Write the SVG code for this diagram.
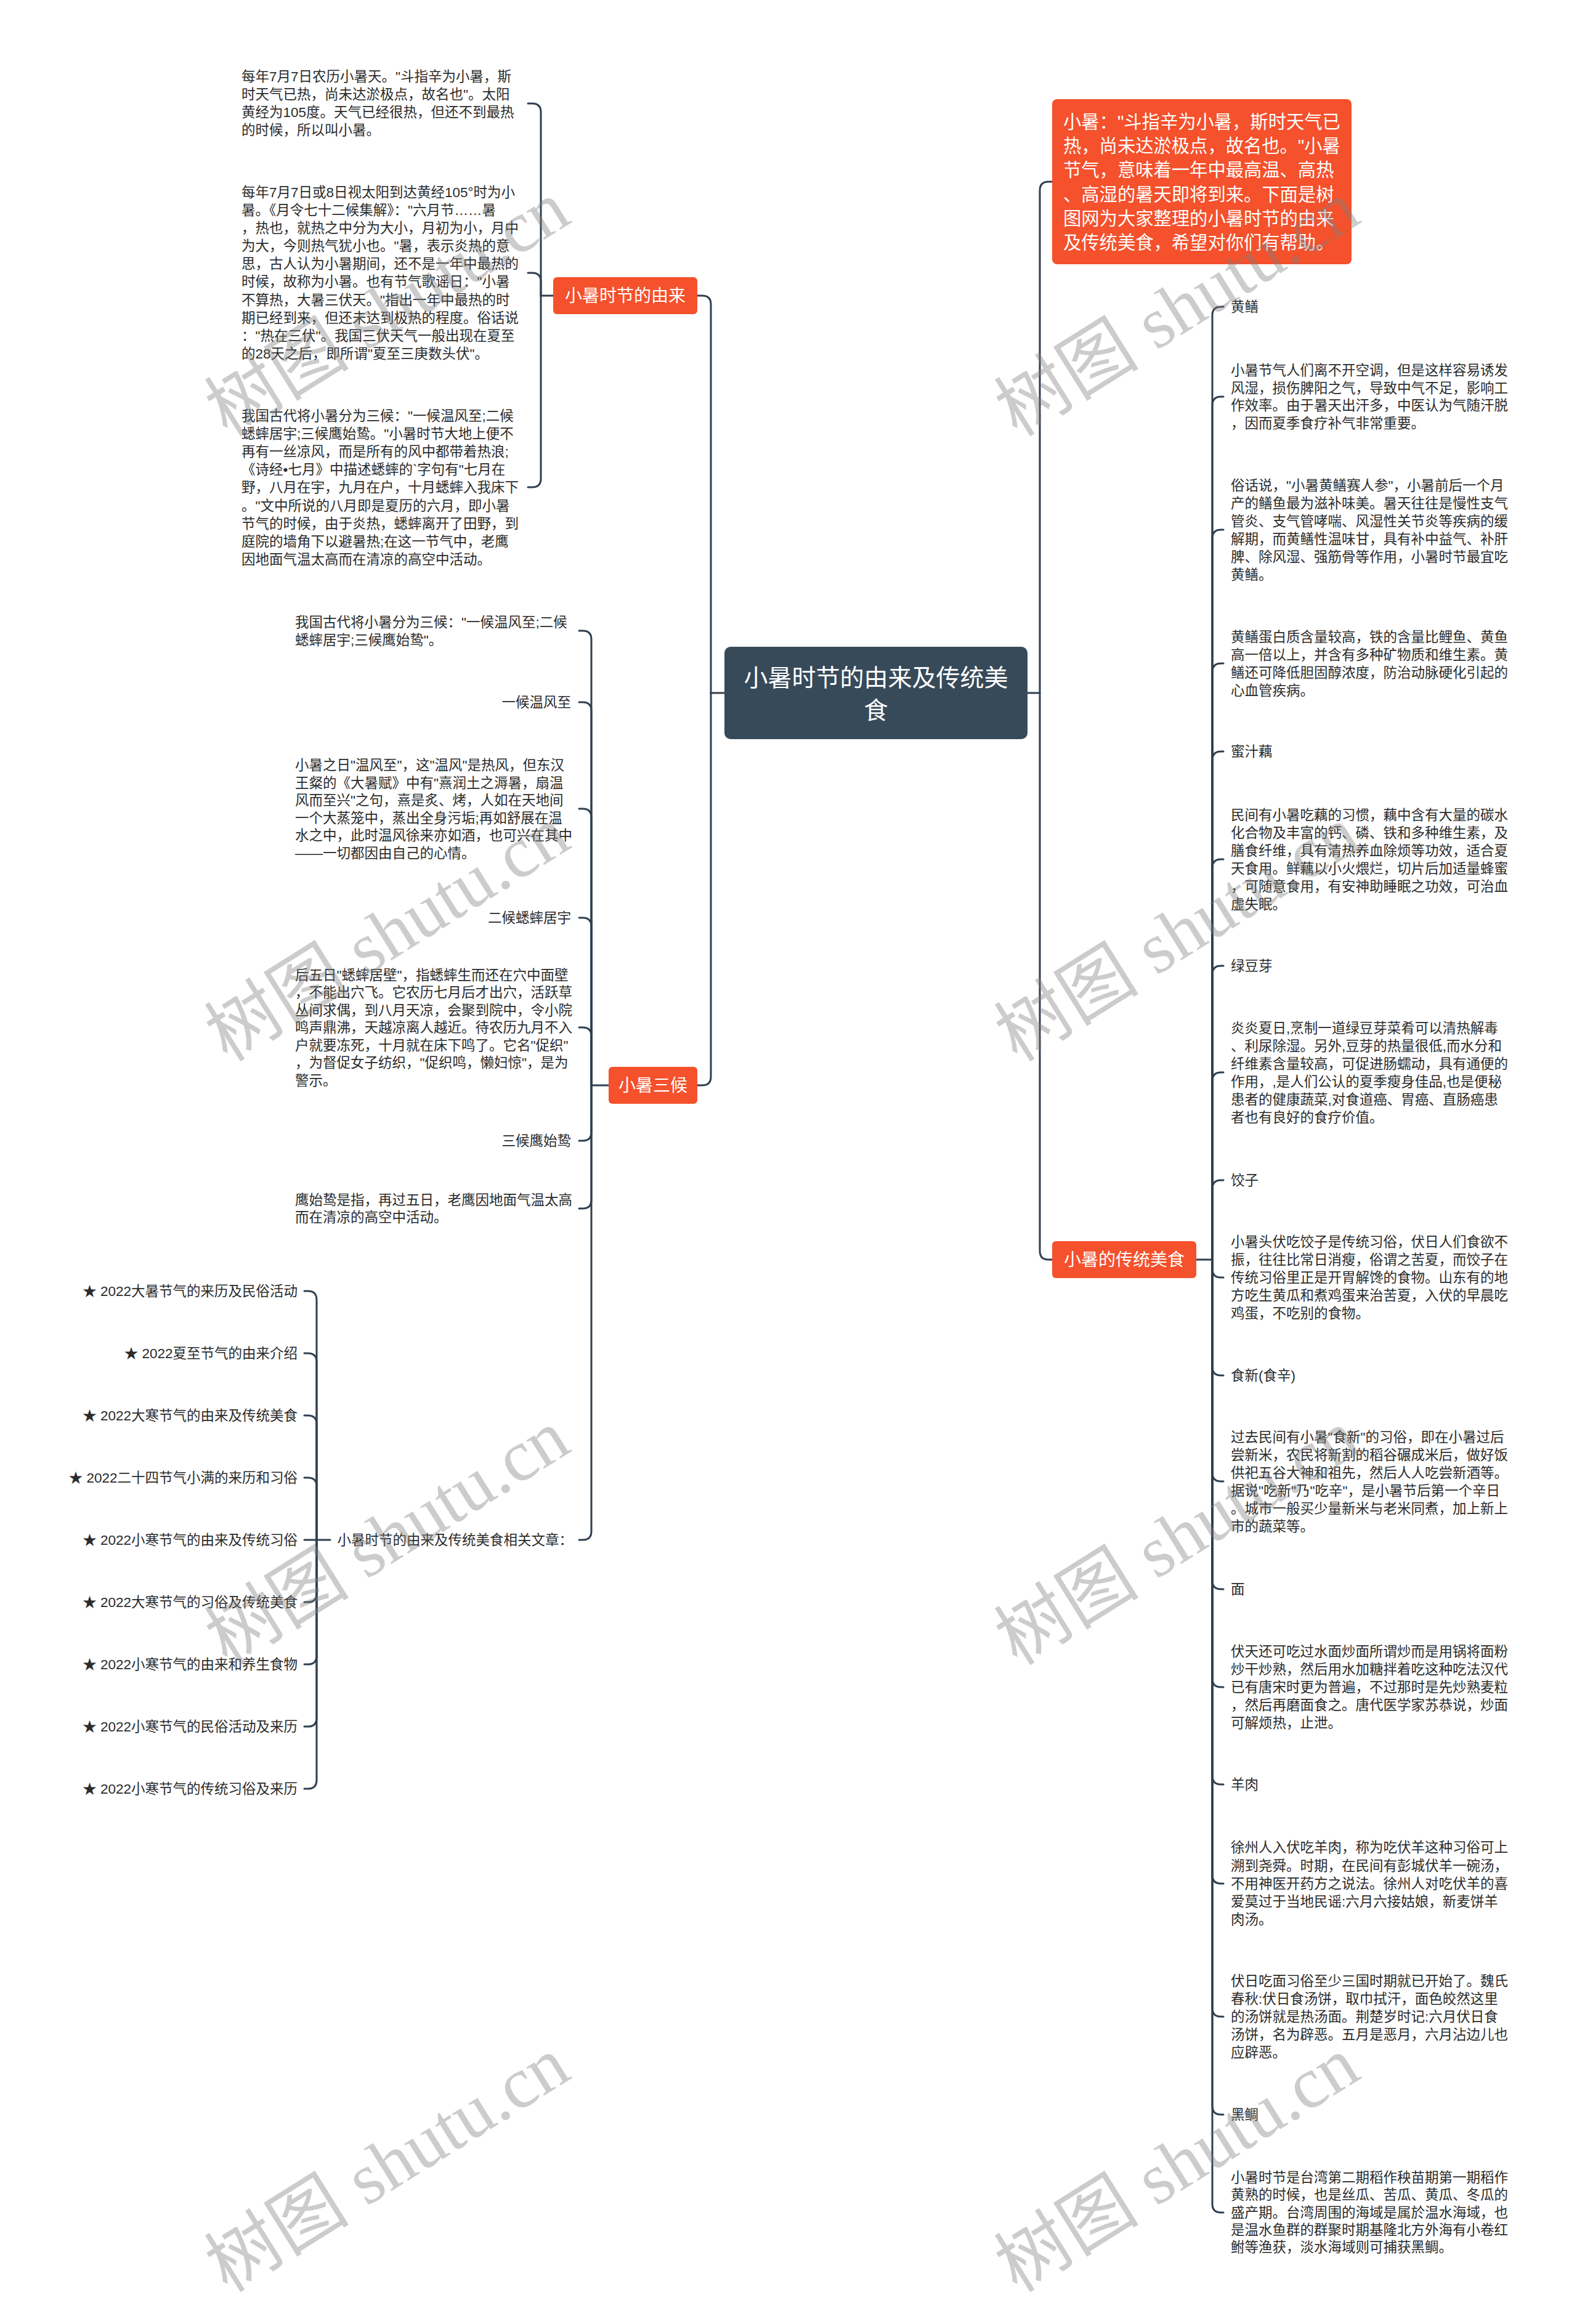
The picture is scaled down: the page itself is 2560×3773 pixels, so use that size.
<svg xmlns="http://www.w3.org/2000/svg" width="2560" height="3773" viewBox="0 0 2560 3773">
<style>
.t{font-family:"Liberation Sans","Noto Sans CJK SC",sans-serif;font-size:22.5px;fill:#2b2b2b;dominant-baseline:central}
.e{text-anchor:end}
.n{font-family:"Liberation Sans","Noto Sans CJK SC",sans-serif;font-size:28px;fill:#ffffff;dominant-baseline:central;text-anchor:middle}
.rt{font-family:"Liberation Sans","Noto Sans CJK SC",sans-serif;font-size:39px;fill:#ffffff;dominant-baseline:central;text-anchor:middle}
.ib{font-family:"Liberation Sans","Noto Sans CJK SC",sans-serif;font-size:29.3px;fill:#ffffff;dominant-baseline:central}
.or{fill:#f4512c}
.c path{fill:none;stroke:#2f3f4f;stroke-width:3;stroke-linecap:round}
.wm{font-family:"Liberation Serif","Noto Sans CJK SC",serif;font-size:118px;fill:#7f7f7f;fill-opacity:0.4}
</style>
<rect width="2560" height="3773" fill="#ffffff"/>
<g class="c" id="connectors">
<path d="M1176 1125 H1154"/>
<path d="M1154 1125 V494 Q1154 480 1140 480 H1132"/>
<path d="M1154 1125 V1748 Q1154 1762 1140 1762 H1132"/>
<path d="M1668 1125 H1688"/>
<path d="M1688 1125 V309 Q1688 295 1702 295 H1708"/>
<path d="M1688 1125 V2031 Q1688 2045 1702 2045 H1708"/>
<path d="M898 480 H878"/>
<path d="M878 480 V182 Q878 168 864 168 H857"/>
<path d="M878 480 V457 Q878 443 864 443 H857"/>
<path d="M878 480 V777 Q878 791 864 791 H857"/>
<path d="M988 1762 H960"/>
<path d="M960 1762 V1038 Q960 1024 946 1024 H940"/>
<path d="M960 1762 V1154 Q960 1140 946 1140 H940"/>
<path d="M960 1762 V1327 Q960 1313 946 1313 H940"/>
<path d="M960 1762 V1504 Q960 1490 946 1490 H940"/>
<path d="M960 1762 V1682 Q960 1668 946 1668 H940"/>
<path d="M960 1762 V1838 Q960 1852 946 1852 H940"/>
<path d="M960 1762 V1948 Q960 1962 946 1962 H940"/>
<path d="M960 1762 V2486 Q960 2500 946 2500 H940"/>
<path d="M536 2500 H494"/>
<path d="M514 2500 V2110 Q514 2096 500 2096 H494"/>
<path d="M514 2500 V2211 Q514 2197 500 2197 H494"/>
<path d="M514 2500 V2312 Q514 2298 500 2298 H494"/>
<path d="M514 2500 V2413 Q514 2399 500 2399 H494"/>
<path d="M514 2500 V2587 Q514 2601 500 2601 H494"/>
<path d="M514 2500 V2688 Q514 2702 500 2702 H494"/>
<path d="M514 2500 V2789 Q514 2803 500 2803 H494"/>
<path d="M514 2500 V2890 Q514 2904 500 2904 H494"/>
<path d="M1942 2045 H1968"/>
<path d="M1968 2045 V512 Q1968 498 1982 498 H1986"/>
<path d="M1968 2045 V658 Q1968 644 1982 644 H1986"/>
<path d="M1968 2045 V874 Q1968 860 1982 860 H1986"/>
<path d="M1968 2045 V1091 Q1968 1077 1982 1077 H1986"/>
<path d="M1968 2045 V1234 Q1968 1220 1982 1220 H1986"/>
<path d="M1968 2045 V1409 Q1968 1395 1982 1395 H1986"/>
<path d="M1968 2045 V1582 Q1968 1568 1982 1568 H1986"/>
<path d="M1968 2045 V1755 Q1968 1741 1982 1741 H1986"/>
<path d="M1968 2045 V1930 Q1968 1916 1982 1916 H1986"/>
<path d="M1968 2045 V2060 Q1968 2074 1982 2074 H1986"/>
<path d="M1968 2045 V2219 Q1968 2233 1982 2233 H1986"/>
<path d="M1968 2045 V2391 Q1968 2405 1982 2405 H1986"/>
<path d="M1968 2045 V2566 Q1968 2580 1982 2580 H1986"/>
<path d="M1968 2045 V2725 Q1968 2739 1982 2739 H1986"/>
<path d="M1968 2045 V2883 Q1968 2897 1982 2897 H1986"/>
<path d="M1968 2045 V3044 Q1968 3058 1982 3058 H1986"/>
<path d="M1968 2045 V3260 Q1968 3274 1982 3274 H1986"/>
<path d="M1968 2045 V3419 Q1968 3433 1982 3433 H1986"/>
<path d="M1968 2045 V3578 Q1968 3592 1982 3592 H1986"/>
</g>
<g id="root">
<rect x="1176" y="1050" width="492" height="150" rx="10" fill="#374a5a"/>
<text class="rt"><tspan x="1422" y="1100">小暑时节的由来及传统美</tspan><tspan x="1422" y="1153">食</tspan></text>
</g>
<g id="n-intro">
<rect class="or" x="1708" y="161" width="486" height="268" rx="8"/>
<text class="ib"><tspan x="1726" y="197">小暑："斗指辛为小暑，斯时天气已</tspan><tspan x="1726" y="236">热，尚未达淤极点，故名也。"小暑</tspan><tspan x="1726" y="275">节气，意味着一年中最高温、高热</tspan><tspan x="1726" y="315">、高湿的暑天即将到来。下面是树</tspan><tspan x="1726" y="354">图网为大家整理的小暑时节的由来</tspan><tspan x="1726" y="393">及传统美食，希望对你们有帮助。</tspan></text>
</g>
<g id="n-origin">
<rect class="or" x="898" y="450" width="234" height="60" rx="6"/>
<text class="n" x="1015" y="480">小暑时节的由来</text>
</g>
<g id="n-origin-1">
<text class="t"><tspan x="392" y="124">每年7月7日农历小暑天。"斗指辛为小暑，斯</tspan><tspan x="392" y="153">时天气已热，尚未达淤极点，故名也"。太阳</tspan><tspan x="392" y="182">黄经为105度。天气已经很热，但还不到最热</tspan><tspan x="392" y="211">的时候，所以叫小暑。</tspan></text>
</g>
<g id="n-origin-2">
<text class="t"><tspan x="392" y="312">每年7月7日或8日视太阳到达黄经105°时为小</tspan><tspan x="392" y="341">暑。《月令七十二候集解》："六月节……暑</tspan><tspan x="392" y="370">，热也，就热之中分为大小，月初为小，月中</tspan><tspan x="392" y="399">为大，今则热气犹小也。"暑，表示炎热的意</tspan><tspan x="392" y="428">思，古人认为小暑期间，还不是一年中最热的</tspan><tspan x="392" y="457">时候，故称为小暑。也有节气歌谣日："小暑</tspan><tspan x="392" y="487">不算热，大暑三伏天。"指出一年中最热的时</tspan><tspan x="392" y="516">期已经到来，但还未达到极热的程度。俗话说</tspan><tspan x="392" y="545">："热在三伏"。我国三伏天气一般出现在夏至</tspan><tspan x="392" y="574">的28天之后，即所谓"夏至三庚数头伏"。</tspan></text>
</g>
<g id="n-origin-3">
<text class="t"><tspan x="392" y="675">我国古代将小暑分为三候："一候温风至;二候</tspan><tspan x="392" y="704">蟋蟀居宇;三候鹰始鸷。"小暑时节大地上便不</tspan><tspan x="392" y="733">再有一丝凉风，而是所有的风中都带着热浪;</tspan><tspan x="392" y="762">《诗经•七月》中描述蟋蟀的`字句有"七月在</tspan><tspan x="392" y="791">野，八月在宇，九月在户，十月蟋蟀入我床下</tspan><tspan x="392" y="821">。"文中所说的八月即是夏历的六月，即小暑</tspan><tspan x="392" y="850">节气的时候，由于炎热，蟋蟀离开了田野，到</tspan><tspan x="392" y="879">庭院的墙角下以避暑热;在这一节气中，老鹰</tspan><tspan x="392" y="908">因地面气温太高而在清凉的高空中活动。</tspan></text>
</g>
<g id="n-hou">
<rect class="or" x="988" y="1732" width="144" height="60" rx="6"/>
<text class="n" x="1060" y="1762">小暑三候</text>
</g>
<g id="n-hou-1">
<text class="t"><tspan x="479" y="1010">我国古代将小暑分为三候："一候温风至;二候</tspan><tspan x="479" y="1039">蟋蟀居宇;三候鹰始鸷"。</tspan></text>
</g>
<g id="n-hou-2"><text class="t e" x="927" y="1140">一候温风至</text></g>
<g id="n-hou-3">
<text class="t"><tspan x="479" y="1242">小暑之日"温风至"，这"温风"是热风，但东汉</tspan><tspan x="479" y="1271">王粲的《大暑赋》中有"熹润土之溽暑，扇温</tspan><tspan x="479" y="1299">风而至兴"之句，熹是炙、烤，人如在天地间</tspan><tspan x="479" y="1328">一个大蒸笼中，蒸出全身污垢;再如舒展在温</tspan><tspan x="479" y="1356">水之中，此时温风徐来亦如酒，也可兴在其中</tspan><tspan x="479" y="1385">——一切都因由自己的心情。</tspan></text>
</g>
<g id="n-hou-4"><text class="t e" x="927" y="1490">二候蟋蟀居宇</text></g>
<g id="n-hou-5">
<text class="t"><tspan x="479" y="1583">后五日"蟋蟀居壁"，指蟋蟀生而还在穴中面壁</tspan><tspan x="479" y="1611">，不能出穴飞。它农历七月后才出穴，活跃草</tspan><tspan x="479" y="1640">丛间求偶，到八月天凉，会聚到院中，令小院</tspan><tspan x="479" y="1668">鸣声鼎沸，天越凉离人越近。待农历九月不入</tspan><tspan x="479" y="1697">户就要冻死，十月就在床下鸣了。它名"促织"</tspan><tspan x="479" y="1725">，为督促女子纺织，"促织鸣，懒妇惊"，是为</tspan><tspan x="479" y="1754">警示。</tspan></text>
</g>
<g id="n-hou-6"><text class="t e" x="927" y="1852">三候鹰始鸷</text></g>
<g id="n-hou-7">
<text class="t"><tspan x="479" y="1948">鹰始鸷是指，再过五日，老鹰因地面气温太高</tspan><tspan x="479" y="1976">而在清凉的高空中活动。</tspan></text>
</g>
<g id="n-related"><text class="t e" x="930" y="2500">小暑时节的由来及传统美食相关文章：</text></g>
<g id="n-related-items">
<text class="t e" x="483" y="2096">★ 2022大暑节气的来历及民俗活动</text>
<text class="t e" x="483" y="2197">★ 2022夏至节气的由来介绍</text>
<text class="t e" x="483" y="2298">★ 2022大寒节气的由来及传统美食</text>
<text class="t e" x="483" y="2399">★ 2022二十四节气小满的来历和习俗</text>
<text class="t e" x="483" y="2500">★ 2022小寒节气的由来及传统习俗</text>
<text class="t e" x="483" y="2601">★ 2022大寒节气的习俗及传统美食</text>
<text class="t e" x="483" y="2702">★ 2022小寒节气的由来和养生食物</text>
<text class="t e" x="483" y="2803">★ 2022小寒节气的民俗活动及来历</text>
<text class="t e" x="483" y="2904">★ 2022小寒节气的传统习俗及来历</text>
</g>
<g id="n-food">
<rect class="or" x="1708" y="2015" width="234" height="60" rx="6"/>
<text class="n" x="1825" y="2045">小暑的传统美食</text>
</g>
<g id="n-food-items">
<text class="t" x="1998" y="498">黄鳝</text>
<text class="t"><tspan x="1998" y="601">小暑节气人们离不开空调，但是这样容易诱发</tspan><tspan x="1998" y="630">风湿，损伤脾阳之气，导致中气不足，影响工</tspan><tspan x="1998" y="658">作效率。由于暑天出汗多，中医认为气随汗脱</tspan><tspan x="1998" y="687">，因而夏季食疗补气非常重要。</tspan></text>
<text class="t"><tspan x="1998" y="788">俗话说，"小暑黄鳝赛人参"，小暑前后一个月</tspan><tspan x="1998" y="817">产的鳝鱼最为滋补味美。暑天往往是慢性支气</tspan><tspan x="1998" y="846">管炎、支气管哮喘、风湿性关节炎等疾病的缓</tspan><tspan x="1998" y="875">解期，而黄鳝性温味甘，具有补中益气、补肝</tspan><tspan x="1998" y="904">脾、除风湿、强筋骨等作用，小暑时节最宜吃</tspan><tspan x="1998" y="933">黄鳝。</tspan></text>
<text class="t"><tspan x="1998" y="1034">黄鳝蛋白质含量较高，铁的含量比鲤鱼、黄鱼</tspan><tspan x="1998" y="1063">高一倍以上，并含有多种矿物质和维生素。黄</tspan><tspan x="1998" y="1092">鳝还可降低胆固醇浓度，防治动脉硬化引起的</tspan><tspan x="1998" y="1121">心血管疾病。</tspan></text>
<text class="t" x="1998" y="1220">蜜汁藕</text>
<text class="t"><tspan x="1998" y="1323">民间有小暑吃藕的习惯，藕中含有大量的碳水</tspan><tspan x="1998" y="1352">化合物及丰富的钙、磷、铁和多种维生素，及</tspan><tspan x="1998" y="1381">膳食纤维，具有清热养血除烦等功效，适合夏</tspan><tspan x="1998" y="1410">天食用。鲜藕以小火煨烂，切片后加适量蜂蜜</tspan><tspan x="1998" y="1439">，可随意食用，有安神助睡眠之功效，可治血</tspan><tspan x="1998" y="1468">虚失眠。</tspan></text>
<text class="t" x="1998" y="1568">绿豆芽</text>
<text class="t"><tspan x="1998" y="1669">炎炎夏日,烹制一道绿豆芽菜肴可以清热解毒</tspan><tspan x="1998" y="1698">、利尿除湿。另外,豆芽的热量很低,而水分和</tspan><tspan x="1998" y="1727">纤维素含量较高，可促进肠蠕动，具有通便的</tspan><tspan x="1998" y="1756">作用，,是人们公认的夏季瘦身佳品,也是便秘</tspan><tspan x="1998" y="1785">患者的健康蔬菜,对食道癌、胃癌、直肠癌患</tspan><tspan x="1998" y="1814">者也有良好的食疗价值。</tspan></text>
<text class="t" x="1998" y="1916">饺子</text>
<text class="t"><tspan x="1998" y="2016">小暑头伏吃饺子是传统习俗，伏日人们食欲不</tspan><tspan x="1998" y="2045">振，往往比常日消瘦，俗谓之苦夏，而饺子在</tspan><tspan x="1998" y="2074">传统习俗里正是开胃解馋的食物。山东有的地</tspan><tspan x="1998" y="2103">方吃生黄瓜和煮鸡蛋来治苦夏，入伏的早晨吃</tspan><tspan x="1998" y="2132">鸡蛋，不吃别的食物。</tspan></text>
<text class="t" x="1998" y="2233">食新(食辛)</text>
<text class="t"><tspan x="1998" y="2333">过去民间有小暑"食新"的习俗，即在小暑过后</tspan><tspan x="1998" y="2362">尝新米，农民将新割的稻谷碾成米后，做好饭</tspan><tspan x="1998" y="2391">供祀五谷大神和祖先，然后人人吃尝新酒等。</tspan><tspan x="1998" y="2420">据说"吃新"乃"吃辛"，是小暑节后第一个辛日</tspan><tspan x="1998" y="2449">。城市一般买少量新米与老米同煮，加上新上</tspan><tspan x="1998" y="2478">市的蔬菜等。</tspan></text>
<text class="t" x="1998" y="2580">面</text>
<text class="t"><tspan x="1998" y="2681">伏天还可吃过水面炒面所谓炒而是用锅将面粉</tspan><tspan x="1998" y="2710">炒干炒熟，然后用水加糖拌着吃这种吃法汉代</tspan><tspan x="1998" y="2739">已有唐宋时更为普遍，不过那时是先炒熟麦粒</tspan><tspan x="1998" y="2768">，然后再磨面食之。唐代医学家苏恭说，炒面</tspan><tspan x="1998" y="2797">可解烦热，止泄。</tspan></text>
<text class="t" x="1998" y="2897">羊肉</text>
<text class="t"><tspan x="1998" y="2999">徐州人入伏吃羊肉，称为吃伏羊这种习俗可上</tspan><tspan x="1998" y="3029">溯到尧舜。时期，在民间有彭城伏羊一碗汤，</tspan><tspan x="1998" y="3058">不用神医开药方之说法。徐州人对吃伏羊的喜</tspan><tspan x="1998" y="3087">爱莫过于当地民谣:六月六接姑娘，新麦饼羊</tspan><tspan x="1998" y="3116">肉汤。</tspan></text>
<text class="t"><tspan x="1998" y="3216">伏日吃面习俗至少三国时期就已开始了。魏氏</tspan><tspan x="1998" y="3245">春秋:伏日食汤饼，取巾拭汗，面色皎然这里</tspan><tspan x="1998" y="3274">的汤饼就是热汤面。荆楚岁时记:六月伏日食</tspan><tspan x="1998" y="3303">汤饼，名为辟恶。五月是恶月，六月沾边儿也</tspan><tspan x="1998" y="3332">应辟恶。</tspan></text>
<text class="t" x="1998" y="3433">黑鲷</text>
<text class="t"><tspan x="1998" y="3535">小暑时节是台湾第二期稻作秧苗期第一期稻作</tspan><tspan x="1998" y="3563">黄熟的时候，也是丝瓜、苦瓜、黄瓜、冬瓜的</tspan><tspan x="1998" y="3592">盛产期。台湾周围的海域是属於温水海域，也</tspan><tspan x="1998" y="3620">是温水鱼群的群聚时期基隆北方外海有小卷红</tspan><tspan x="1998" y="3648">鲋等渔获，淡水海域则可捕获黑鲷。</tspan></text>
</g>
<g id="watermark">
<text class="wm" text-anchor="middle" transform="translate(650 535) rotate(-32)">树图 shutu.cn</text>
<text class="wm" text-anchor="middle" transform="translate(1932 535) rotate(-32)">树图 shutu.cn</text>
<text class="wm" text-anchor="middle" transform="translate(650 1550) rotate(-32)">树图 shutu.cn</text>
<text class="wm" text-anchor="middle" transform="translate(1932 1550) rotate(-32)">树图 shutu.cn</text>
<text class="wm" text-anchor="middle" transform="translate(650 2530) rotate(-32)">树图 shutu.cn</text>
<text class="wm" text-anchor="middle" transform="translate(1932 2530) rotate(-32)">树图 shutu.cn</text>
<text class="wm" text-anchor="middle" transform="translate(650 3548) rotate(-32)">树图 shutu.cn</text>
<text class="wm" text-anchor="middle" transform="translate(1932 3548) rotate(-32)">树图 shutu.cn</text>
</g>
</svg>
